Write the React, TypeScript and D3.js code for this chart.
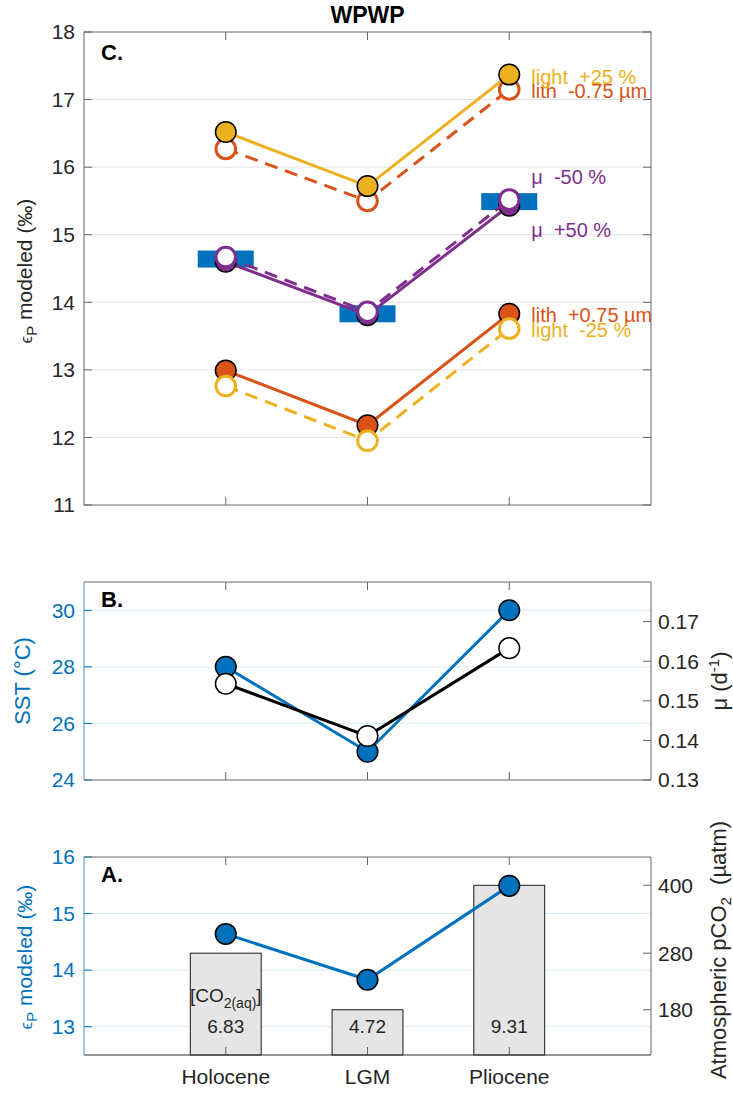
import React from 'react';
import * as d3 from 'd3';

// ---- data ----
const eras = ['Holocene', 'LGM', 'Pliocene'];

// C. modeled epsilon_P (‰) for the base run and the sensitivity runs
const epBase = [14.64, 13.83, 15.49];
const epLightPlus25 = [16.52, 15.72, 17.37];
const epLithMinus075 = [16.27, 15.5, 17.15];
const epMuPlus50 = [14.6, 13.81, 15.43];
const epMuMinus50 = [14.67, 13.86, 15.52];
const epLithPlus075 = [12.99, 12.18, 13.83];
const epLightMinus25 = [12.76, 11.95, 13.61];
const epTicksC = [11, 12, 13, 14, 15, 16, 17, 18];

// B. sea surface temperature and growth rate
const sst = [28.0, 25.0, 30.0];
const growthRate = [0.1543, 0.1411, 0.1633];
const sstTicks = [24, 26, 28, 30];
const muTicks = [0.13, 0.14, 0.15, 0.16, 0.17];

// A. modeled epsilon_P, atmospheric pCO2 and [CO2(aq)]
const pco2 = [280, 180, 400];
const co2aq = ['6.83', '4.72', '9.31'];
const epTicksA = [13, 14, 15, 16];
const pco2Ticks = [180, 280, 400];

// ---- styling ----
const FONT = "'Liberation Sans', Arial, Helvetica, sans-serif";
const BLUE = '#0072BD';
const ORANGE = '#D95319';
const YELLOW = '#EDB120';
const PURPLE = '#7E2F8E';
const INK = '#262626';
const FRAME = '#666666';
const GRID_GRAY = '#e4e4e4';
const GRID_BLUE = '#d9eaf5';

const W = 733;
const H = 1095;
const left = 84;
const right = 651;
const C = { top: 32, bottom: 505 };
const B = { top: 582, bottom: 780 };
const A = { top: 857, bottom: 1055 };
const TICK = 8;

const x = d3.scaleLinear().domain([0, 4]).range([left, right]);
const xi = (i: number) => x(i + 1);

const yC = d3.scaleLinear().domain([11, 18]).range([C.bottom, C.top]);
const ySST = d3.scaleLinear().domain([24, 31]).range([B.bottom, B.top]);
const yMu = d3.scaleLinear().domain([0.13, 0.18]).range([B.bottom, B.top]);
const yEpA = d3.scaleLinear().domain([12.5, 16]).range([A.bottom, A.top]);
const yPco2 = d3.scaleLinear().domain([100, 450]).range([A.bottom, A.top]);

type Run = {
  values: number[];
  color: string;
  dashed: boolean;
  filled: boolean;
  label?: string;
  labelDy?: number;
};

// drawing order matters: later runs sit on top
const runsC: Run[] = [
  { values: epLithMinus075, color: ORANGE, dashed: true, filled: false, label: 'lith  -0.75 µm', labelDy: 1.5 },
  { values: epLightPlus25, color: YELLOW, dashed: false, filled: true, label: 'light  +25 %', labelDy: 2 },
  { values: epMuPlus50, color: PURPLE, dashed: false, filled: true, label: 'μ  +50 %', labelDy: 24 },
  { values: epMuMinus50, color: PURPLE, dashed: true, filled: false, label: 'μ  -50 %', labelDy: -23 },
  { values: epLithPlus075, color: ORANGE, dashed: false, filled: true, label: 'lith  +0.75 µm', labelDy: 1 },
  { values: epLightMinus25, color: YELLOW, dashed: true, filled: false, label: 'light  -25 %', labelDy: 1 },
];

function linePath(values: number[], y: d3.ScaleLinear<number, number>) {
  return (
    d3
      .line<number>()
      .x((_, i) => xi(i))
      .y((d) => y(d))(values) || ''
  );
}

function Dot({ cx, cy, fill, stroke, sw }: { cx: number; cy: number; fill: string; stroke: string; sw: number }) {
  return <circle cx={cx} cy={cy} r={sw > 2 ? 9.8 : 10.3} fill={fill} stroke={stroke} strokeWidth={sw} />;
}

function Grid({ ticks, y, color, top, bottom }: { ticks: number[]; y: (v: number) => number; color: string; top: number; bottom: number }) {
  return (
    <g>
      {ticks
        .filter((t) => y(t) > top + 0.5 && y(t) < bottom - 0.5)
        .map((t) => (
          <line key={t} x1={left} x2={right} y1={y(t)} y2={y(t)} stroke={color} strokeWidth={1} />
        ))}
    </g>
  );
}

function XTicks({ top, bottom, color }: { top: number; bottom: number; color: string }) {
  return (
    <g stroke={color} strokeWidth={1}>
      {eras.map((_, i) => (
        <g key={i}>
          <line x1={xi(i)} x2={xi(i)} y1={top} y2={top + TICK} />
          <line x1={xi(i)} x2={xi(i)} y1={bottom} y2={bottom - TICK} />
        </g>
      ))}
    </g>
  );
}

function YAxisLeft({ ticks, y, color, fmt }: { ticks: number[]; y: (v: number) => number; color: string; fmt: (v: number) => string }) {
  return (
    <g>
      {ticks.map((t) => (
        <g key={t}>
          <line x1={left} x2={left + TICK} y1={y(t)} y2={y(t)} stroke={color} strokeWidth={1} />
          <text x={left - 9} y={y(t)} dy="0.35em" textAnchor="end" fontSize={21} fill={color === FRAME ? INK : color}>
            {fmt(t)}
          </text>
        </g>
      ))}
    </g>
  );
}

function YAxisRight({ ticks, y, color, fmt }: { ticks: number[]; y: (v: number) => number; color: string; fmt: (v: number) => string }) {
  return (
    <g>
      {ticks.map((t) => (
        <g key={t}>
          <line x1={right} x2={right - TICK} y1={y(t)} y2={y(t)} stroke={color} strokeWidth={1} />
          <text x={right + 7} y={y(t)} dy="0.35em" textAnchor="start" fontSize={21} fill={INK}>
            {fmt(t)}
          </text>
        </g>
      ))}
    </g>
  );
}

function EpsilonLabel({ cx, cy, color }: { cx: number; cy: number; color: string }) {
  return (
    <text transform={`translate(${cx},${cy}) rotate(-90)`} textAnchor="middle" fontSize={21} fill={color} style={{ whiteSpace: 'pre' }}>
      <tspan fontSize={17}>ϵ</tspan>
      <tspan fontSize={15} dy={5}>P</tspan>
      <tspan dy={-5}> modeled (‰)</tspan>
    </text>
  );
}

export default function App() {
  const rectW = 56;
  const rectH = 17;
  const barW = x(0.5) - x(0);
  const fmt0 = (v: number) => String(v);
  const fmt2 = (v: number) => v.toFixed(2);

  return (
    <svg
      width={W}
      height={H}
      viewBox={`0 0 ${W} ${H}`}
      style={{ position: 'absolute', left: 0, top: 0, background: '#fff' }}
      fontFamily={FONT}
    >
      <rect x={0} y={0} width={W} height={H} fill="#fff" />

      {/* title */}
      <text x={(left + right) / 2} y={23} textAnchor="middle" fontSize={23} fontWeight="bold" fill="#000">
        WPWP
      </text>

      {/* ================= C ================= */}
      <g>
        <Grid ticks={epTicksC} y={yC} color={GRID_GRAY} top={C.top} bottom={C.bottom} />

        {epBase.map((v, i) => (
          <rect key={i} x={xi(i) - rectW / 2} y={yC(v) - rectH / 2} width={rectW} height={rectH} fill={BLUE} />
        ))}

        {runsC.map((r, k) => (
          <g key={k}>
            <path
              d={linePath(r.values, yC)}
              fill="none"
              stroke={r.color}
              strokeWidth={3}
              strokeDasharray={r.dashed ? '13 8' : undefined}
            />
            {r.values.map((v, i) =>
              r.filled ? (
                <Dot key={i} cx={xi(i)} cy={yC(v)} fill={r.color} stroke="#000" sw={1.5} />
              ) : (
                <Dot key={i} cx={xi(i)} cy={yC(v)} fill="#fff" stroke={r.color} sw={3} />
              )
            )}
          </g>
        ))}

        {runsC.map((r, k) => (
          <text
            key={'l' + k}
            x={xi(2) + 22}
            y={yC(r.values[2]) + (r.labelDy || 0)}
            dy="0.35em"
            fontSize={20}
            fill={r.color}
            style={{ whiteSpace: 'pre' }}
          >
            {r.label}
          </text>
        ))}

        <XTicks top={C.top} bottom={C.bottom} color={FRAME} />
        <YAxisLeft ticks={epTicksC} y={yC} color={FRAME} fmt={fmt0} />
        {epTicksC.map((t) => (
          <line key={t} x1={right} x2={right - TICK} y1={yC(t)} y2={yC(t)} stroke={FRAME} strokeWidth={1} />
        ))}
        <rect x={left} y={C.top} width={right - left} height={C.bottom - C.top} fill="none" stroke={FRAME} strokeWidth={1} />

        <text x={101} y={60} fontSize={22} fontWeight="bold" fill="#000">
          C.
        </text>
        <EpsilonLabel cx={32} cy={271} color={INK} />
      </g>

      {/* ================= B ================= */}
      <g>
        <Grid ticks={sstTicks} y={ySST} color={GRID_BLUE} top={B.top} bottom={B.bottom} />

        <path d={linePath(sst, ySST)} fill="none" stroke={BLUE} strokeWidth={3} />
        {sst.map((v, i) => (
          <Dot key={i} cx={xi(i)} cy={ySST(v)} fill={BLUE} stroke="#000" sw={1.5} />
        ))}
        <path d={linePath(growthRate, yMu)} fill="none" stroke="#000" strokeWidth={3} />
        {growthRate.map((v, i) => (
          <Dot key={i} cx={xi(i)} cy={yMu(v)} fill="#fff" stroke="#000" sw={1.5} />
        ))}

        <XTicks top={B.top} bottom={B.bottom} color={FRAME} />
        <YAxisLeft ticks={sstTicks} y={ySST} color={BLUE} fmt={fmt0} />
        <YAxisRight ticks={muTicks} y={yMu} color={FRAME} fmt={fmt2} />
        <line x1={left} x2={right} y1={B.top} y2={B.top} stroke={FRAME} />
        <line x1={left} x2={right} y1={B.bottom} y2={B.bottom} stroke={FRAME} />
        <line x1={right} x2={right} y1={B.top} y2={B.bottom} stroke={FRAME} />
        <line x1={left} x2={left} y1={B.top} y2={B.bottom} stroke={BLUE} strokeOpacity={0.75} />

        <text x={101} y={606.5} fontSize={22} fontWeight="bold" fill="#000">
          B.
        </text>
        <text
          transform={`translate(29.5,${(B.top + B.bottom) / 2}) rotate(-90)`}
          textAnchor="middle"
          fontSize={22}
          fill={BLUE}
        >
          SST (°C)
        </text>
        <text
          transform={`translate(727,${(B.top + B.bottom) / 2}) rotate(-90)`}
          textAnchor="middle"
          fontSize={22}
          fill={INK}
        >
          <tspan>μ (d</tspan>
          <tspan fontSize={15} dy={-8}>-1</tspan>
          <tspan dy={8}>)</tspan>
        </text>
      </g>

      {/* ================= A ================= */}
      <g>
        <Grid ticks={epTicksA} y={yEpA} color={GRID_BLUE} top={A.top} bottom={A.bottom} />

        {pco2.map((v, i) => (
          <rect
            key={i}
            x={xi(i) - barW / 2}
            y={yPco2(v)}
            width={barW}
            height={A.bottom - yPco2(v)}
            fill="#e5e5e5"
            stroke="#1a1a1a"
            strokeWidth={1}
          />
        ))}

        <text x={xi(0)} y={yEpA(13.55)} dy="0.35em" textAnchor="middle" fontSize={19} fill={INK}>
          <tspan>[CO</tspan>
          <tspan fontSize={14} dy={6}>2(aq)</tspan>
          <tspan dy={-6}>]</tspan>
        </text>
        {co2aq.map((s, i) => (
          <text key={i} x={xi(i)} y={yEpA(13)} dy="0.35em" textAnchor="middle" fontSize={19} fill={INK}>
            {s}
          </text>
        ))}

        <path d={linePath(epBase, yEpA)} fill="none" stroke={BLUE} strokeWidth={3} />
        {epBase.map((v, i) => (
          <Dot key={i} cx={xi(i)} cy={yEpA(v)} fill={BLUE} stroke="#000" sw={1.5} />
        ))}

        <XTicks top={A.top} bottom={A.bottom} color={FRAME} />
        <YAxisLeft ticks={epTicksA} y={yEpA} color={BLUE} fmt={fmt0} />
        <YAxisRight ticks={pco2Ticks} y={yPco2} color={FRAME} fmt={fmt0} />
        <line x1={left} x2={right} y1={A.top} y2={A.top} stroke={FRAME} />
        <line x1={left} x2={right} y1={A.bottom} y2={A.bottom} stroke="#333" />
        <line x1={right} x2={right} y1={A.top} y2={A.bottom} stroke={FRAME} />
        <line x1={left} x2={left} y1={A.top} y2={A.bottom} stroke={BLUE} strokeOpacity={0.75} />

        {eras.map((e, i) => (
          <text key={e} x={xi(i)} y={1083.5} textAnchor="middle" fontSize={21} fill={INK}>
            {e}
          </text>
        ))}

        <text x={101} y={881.5} fontSize={22} fontWeight="bold" fill="#000">
          A.
        </text>
        <EpsilonLabel cx={32} cy={957} color={BLUE} />
        <text
          transform={`translate(726,950) rotate(-90)`}
          textAnchor="middle"
          fontSize={22}
          fill={INK}
          style={{ whiteSpace: 'pre' }}
        >
          <tspan>Atmospheric pCO</tspan>
          <tspan fontSize={15} dy={5}>2</tspan>
          <tspan dy={-5}>  (µatm)</tspan>
        </text>
      </g>
    </svg>
  );
}
